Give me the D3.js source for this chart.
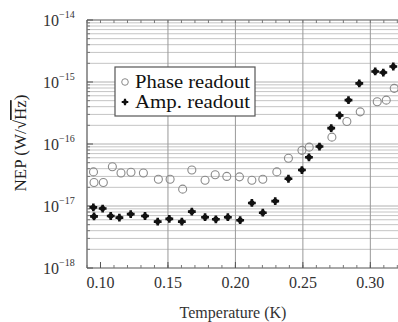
<!DOCTYPE html>
<html><head><meta charset="utf-8">
<script src="https://cdn.jsdelivr.net/npm/d3@7"></script>
<style>body{margin:0;background:#fff}svg{display:block}text{font-family:"Liberation Serif","DejaVu Serif",serif}</style>
</head><body><svg id="c" width="398" height="322"></svg>
<script>
const ampT = [0.0947,0.0952,0.1016,0.1076,0.114,0.1224,0.133,0.1424,0.151,0.1603,0.1677,0.1775,0.1855,0.1944,0.2035,0.2122,0.2203,0.2295,0.2393,0.2493,0.2545,0.2623,0.271,0.2772,0.2838,0.2918,0.3036,0.3096,0.317];
const ampNEP = [9.5e-18,6.8e-18,9.1e-18,6.9e-18,6.5e-18,7.4e-18,6.9e-18,5.6e-18,6.2e-18,5.6e-18,8.1e-18,6.6e-18,6.1e-18,6.6e-18,5.9e-18,1.12e-17,7.8e-18,1.2e-17,2.75e-17,3.8e-17,6.1e-17,9.1e-17,1.8e-16,2.9e-16,5.1e-16,9.5e-16,1.48e-15,1.42e-15,1.78e-15];
const phaseT = [0.0948,0.0952,0.1021,0.1088,0.1152,0.1226,0.1318,0.1429,0.1516,0.1609,0.1677,0.1775,0.185,0.1936,0.203,0.2122,0.2203,0.2307,0.2393,0.2493,0.2547,0.2715,0.2826,0.2925,0.3051,0.3118,0.3177];
const phaseNEP = [3.55e-17,2.4e-17,2.4e-17,4.3e-17,3.4e-17,3.5e-17,3.4e-17,2.7e-17,2.7e-17,1.87e-17,3.8e-17,2.6e-17,3.2e-17,3.0e-17,2.95e-17,2.6e-17,2.7e-17,3.55e-17,5.9e-17,7.9e-17,8.9e-17,1.29e-16,2.3e-16,3.3e-16,4.8e-16,5.1e-16,7.9e-16];
const xTicks = [0.10,0.15,0.20,0.25,0.30];
const xTickLabels = ["0.10","0.15","0.20","0.25","0.30"];
const yExps = [-18,-17,-16,-15,-14];
const seriesNames = ["Phase readout","Amp. readout"];

const svg = d3.select("#c");
const L=87, R=398, T=20, B=268;
const x = d3.scaleLinear().domain([0.09,0.3205]).range([L,R]);
const y = d3.scaleLog().domain([1e-18,1e-14]).range([B,T]);

const g = svg.append("g");
const minors = [];
for (let e=-18;e<-14;e++) for (let m=2;m<=9;m++) minors.push(m*Math.pow(10,e));
g.selectAll(".hm").data(minors).enter().append("line")
  .attr("x1",L).attr("x2",R).attr("y1",d=>y(d)).attr("y2",d=>y(d))
  .attr("stroke","#c4c4c4").attr("stroke-width",1);
g.selectAll(".hM").data(yExps.slice(1,4)).enter().append("line")
  .attr("x1",L).attr("x2",R).attr("y1",d=>y(Math.pow(10,d))).attr("y2",d=>y(Math.pow(10,d)))
  .attr("stroke","#b0b0b0").attr("stroke-width",1);
g.selectAll(".vg").data(xTicks.slice(1)).enter().append("line")
  .attr("x1",d=>x(d)).attr("x2",d=>x(d)).attr("y1",T).attr("y2",B)
  .attr("stroke","#999").attr("stroke-width",1);

g.append("line").attr("x1",L).attr("x2",L).attr("y1",T).attr("y2",B).attr("stroke","#555").attr("stroke-width",1.2);
g.append("line").attr("x1",L).attr("x2",R).attr("y1",B).attr("y2",B).attr("stroke","#555").attr("stroke-width",1.2);
g.append("line").attr("x1",L).attr("x2",R).attr("y1",T).attr("y2",T).attr("stroke","#555").attr("stroke-width",1.2);

const xMinor = d3.range(0.09,0.321,0.01);
g.selectAll(".xmt").data(xMinor).enter().append("line")
  .attr("x1",d=>x(d)).attr("x2",d=>x(d)).attr("y1",B).attr("y2",B-3).attr("stroke","#777");
g.selectAll(".xmtt").data(xMinor).enter().append("line")
  .attr("x1",d=>x(d)).attr("x2",d=>x(d)).attr("y1",T).attr("y2",T+3).attr("stroke","#777");
g.selectAll(".xMt").data(xTicks).enter().append("line")
  .attr("x1",d=>x(d)).attr("x2",d=>x(d)).attr("y1",B).attr("y2",B-6).attr("stroke","#555");
g.selectAll(".ymt").data(minors).enter().append("line")
  .attr("x1",L).attr("x2",L+3).attr("y1",d=>y(d)).attr("y2",d=>y(d)).attr("stroke","#777");
g.selectAll(".yMt").data(yExps).enter().append("line")
  .attr("x1",L).attr("x2",L+6).attr("y1",d=>y(Math.pow(10,d))).attr("y2",d=>y(Math.pow(10,d))).attr("stroke","#555");

g.selectAll(".xl").data(xTicks).enter().append("text")
  .attr("x",d=>x(d)).attr("y",288).attr("text-anchor","middle")
  .attr("font-size",16).attr("fill","#333")
  .text((d,i)=>xTickLabels[i]);
const yl = g.selectAll(".yl").data(yExps).enter().append("text")
  .attr("x",43).attr("y",d=>y(Math.pow(10,d))+6)
  .attr("font-size",16).attr("fill","#333");
yl.append("tspan").text("10");
yl.append("tspan").attr("dy",-8).attr("font-size",10).text(d=>"\u2212"+Math.abs(d));

g.append("text").attr("x",233).attr("y",318).attr("text-anchor","middle")
  .attr("font-size",16).attr("fill","#333").text("Temperature (K)");
const yt = g.append("text").attr("transform","translate(26,143) rotate(-90)").attr("text-anchor","middle")
  .attr("font-size",17).attr("fill","#222");
yt.append("tspan").text("NEP (W/\u221A");
yt.append("tspan").attr("text-decoration","overline").text("Hz");
yt.append("tspan").text(")");

const phase = phaseT.map((t,i)=>({t,v:phaseNEP[i]}));
const amp = ampT.map((t,i)=>({t,v:ampNEP[i]}));
const dg = svg.append("g");
dg.selectAll(".p").data(phase).enter().append("circle")
  .attr("cx",d=>x(d.t)).attr("cy",d=>y(d.v)).attr("r",4)
  .attr("fill","none").attr("stroke","#8a8a8a").attr("stroke-width",1.1);
const cross = d3.symbol().type(d3.symbolCross).size(34);
dg.selectAll(".a").data(amp).enter().append("path")
  .attr("transform",d=>`translate(${x(d.t)},${y(d.v)})`).attr("d",cross).attr("fill","#111");
dg.selectAll(".a2").data(amp).enter().append("circle")
  .attr("cx",d=>x(d.t)).attr("cy",d=>y(d.v)).attr("r",2.7).attr("fill","#111");

const lg = svg.append("g");
lg.append("rect").attr("x",115).attr("y",67).attr("width",140).attr("height",49)
  .attr("fill","#fff").attr("stroke","#555").attr("stroke-width",1.2);
lg.append("circle").attr("cx",125).attr("cy",82).attr("r",3.3).attr("fill","none").attr("stroke","#8a8a8a");
lg.append("path").attr("transform","translate(125,102)").attr("d",d3.symbol().type(d3.symbolCross).size(24)).attr("fill","#111");
lg.append("circle").attr("cx",125).attr("cy",102).attr("r",2.1).attr("fill","#111");
lg.selectAll(".lt").data(seriesNames).enter().append("text")
  .attr("x",135).attr("y",(d,i)=>88+i*20).attr("font-size",18).attr("fill","#111")
  .attr("textLength",115).attr("lengthAdjust","spacingAndGlyphs")
  .text(d=>d);
</script></body></html>
